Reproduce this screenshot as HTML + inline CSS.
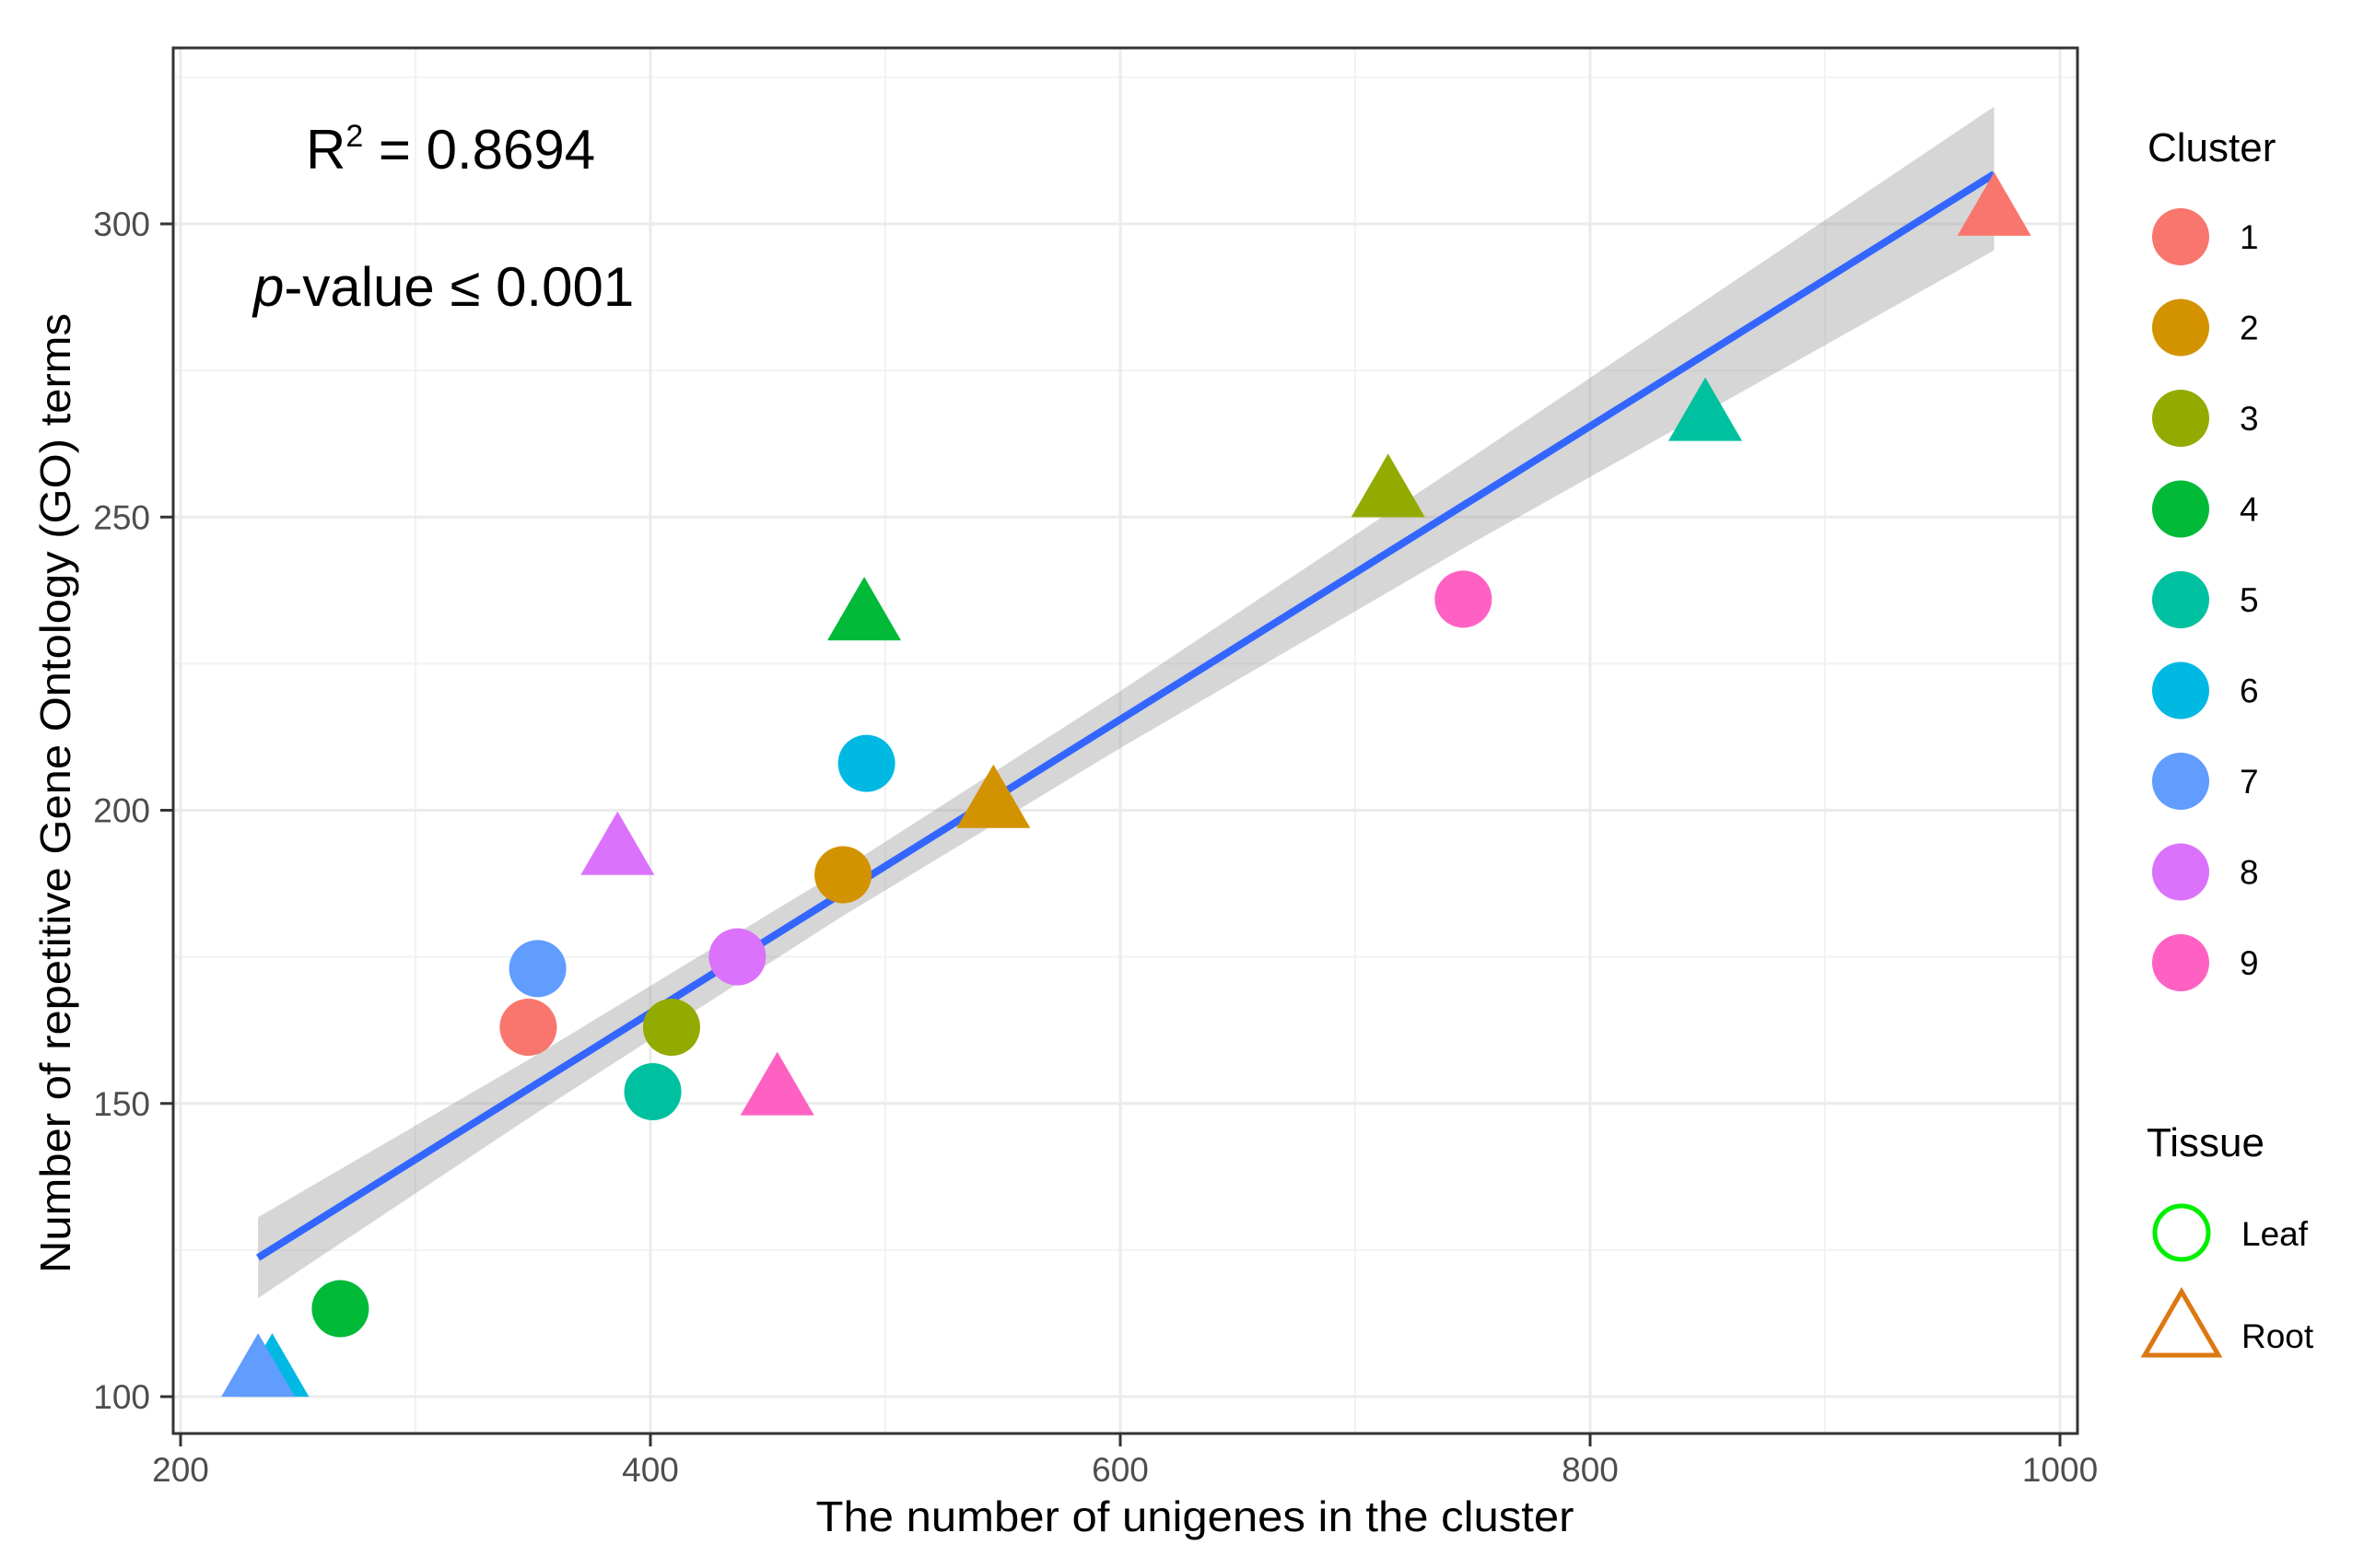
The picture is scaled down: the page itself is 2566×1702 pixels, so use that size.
<!DOCTYPE html>
<html><head><meta charset="utf-8"><style>
html,body{margin:0;padding:0;background:#fff;}
svg{display:block;font-family:"Liberation Sans",Arial,sans-serif;}
</style></head><body>
<svg id="chart" width="2566" height="1702" viewBox="0 0 2566 1702" xmlns="http://www.w3.org/2000/svg">
<g id="grid"></g>
<g id="band"></g>
<g id="marks"></g>
<rect x="188" y="52" width="2067" height="1504" fill="none" stroke="#333" stroke-width="3"/>
<g id="axes"></g>
<text x="332" y="183" font-size="60" fill="#000">R<tspan font-size="34" dy="-24">2</tspan><tspan dy="24"> = 0.8694</tspan></text>
<text x="275" y="332" font-size="60" fill="#000"><tspan font-style="italic">p</tspan>-value ≤ 0.001</text>
<text x="1297" y="1662" font-size="46" text-anchor="middle" textLength="823" lengthAdjust="spacingAndGlyphs" fill="#000">The number of unigenes in the cluster</text>
<text transform="translate(76,861) rotate(-90)" font-size="46" text-anchor="middle" textLength="1042" lengthAdjust="spacingAndGlyphs" fill="#000">Number of repetitive Gene Ontology (GO) terms</text>
<g id="legend"></g>
</svg>
<script>
const clusterColors = ["#F8766D","#D39200","#93AA00","#00BA38","#00C19F","#00B9E3","#619CFF","#DB72FB","#FF61C3"];
const leafClusters = [1,7,3,5,8,2,6,9,4];
const leafX = [348,352,409,401,437,482,492,746,268];
const leafY = [163,173,163,152,175,189,208,236,115];
const rootClusters = [1,5,3,4,2,8,9,6,7];
const rootX = [972,849,714,491,546,386,454,239,233];
const rootY = [303,268,255,234,202,194,153,105,105];
const fitX = [233,972];
const fitY = [123.7,308.5];
const bandX = [233,350,480,600,750,972];
const bandLo = [116.8,148.0,181.5,210.6,245.6,295.5];
const bandHi = [130.6,157.9,189.5,220.3,260.3,320.0];
const xTicks = [200,400,600,800,1000];
const yTicks = [100,150,200,250,300];
const xMinor = [300,500,700,900];
const yMinor = [125,175,225,275,325];

const NS="http://www.w3.org/2000/svg";
const sx = v => 196 + (v-200)*2.55;
const sy = v => 243 + (300-v)*6.365;
function mk(tag, attrs, parent){const e=document.createElementNS(NS,tag);for(const k in attrs)e.setAttribute(k,attrs[k]);parent.appendChild(e);return e;}
const grid=document.getElementById('grid'), band=document.getElementById('band'), marks=document.getElementById('marks'), axes=document.getElementById('axes'), legend=document.getElementById('legend');

xMinor.forEach(v=>{const l=mk('line',{x1:sx(v),x2:sx(v),y1:52,y2:1556,stroke:'#f2f2f2','stroke-width':2},grid);

});
yMinor.forEach(v=>{const l=mk('line',{x1:188,x2:2255,y1:sy(v),y2:sy(v),stroke:'#f2f2f2','stroke-width':2},grid);

});
xTicks.forEach(v=>{const l=mk('line',{x1:sx(v),x2:sx(v),y1:52,y2:1556,stroke:'#ebebeb','stroke-width':3},grid);


const t=mk('line',{x1:sx(v),x2:sx(v),y1:1556,y2:1570,stroke:'#333','stroke-width':3},axes);


const tx=mk('text',{x:sx(v),y:1608,'font-size':37,'text-anchor':'middle',fill:'#4d4d4d'},axes);tx.textContent=v;

});
yTicks.forEach(v=>{const l=mk('line',{x1:188,x2:2255,y1:sy(v),y2:sy(v),stroke:'#ebebeb','stroke-width':3},grid);


const t=mk('line',{x1:174,x2:188,y1:sy(v),y2:sy(v),stroke:'#333','stroke-width':3},axes);


const tx=mk('text',{x:163,y:sy(v)+13,'font-size':37,'text-anchor':'end',fill:'#4d4d4d'},axes);tx.textContent=v;

});

let d='M'+bandX.map((x,i)=>sx(x)+','+sy(bandHi[i])).join(' L');
d+=' L'+bandX.slice().reverse().map((x,j)=>{const i=bandX.length-1-j;return sx(x)+','+sy(bandLo[i]);}).join(' L')+' Z';
const bp=mk('path',{d:d,fill:'#999','fill-opacity':0.4},band);


const fl=mk('line',{x1:sx(fitX[0]),y1:sy(fitY[0]),x2:sx(fitX[1]),y2:sy(fitY[1]),stroke:'#3366FF','stroke-width':8},band);



function tri(cx,cy){return `${cx},${cy-37} ${cx-40},${cy+32} ${cx+40},${cy+32}`;}
leafX.forEach((x,i)=>{const c=mk('circle',{cx:sx(x),cy:sy(leafY[i]),r:31,fill:clusterColors[leafClusters[i]-1]},marks);

});
rootX.forEach((x,i)=>{const p=mk('polygon',{points:tri(sx(x),sy(rootY[i])),fill:clusterColors[rootClusters[i]-1]},marks);

});

const lt=mk('text',{x:2331,y:175,'font-size':44,fill:'#000'},legend);lt.textContent='Cluster';


clusterColors.forEach((c,i)=>{const y=257+i*98.5;
const k=mk('circle',{cx:2367,cy:y,r:31,fill:c},legend);


const t=mk('text',{x:2431,y:y+13,'font-size':37,fill:'#000'},legend);t.textContent=i+1;

});
const tt=mk('text',{x:2330,y:1255,'font-size':44,fill:'#000'},legend);tt.textContent='Tissue';


const lc=mk('circle',{cx:2368,cy:1338,r:29,fill:'none',stroke:'#00EE00','stroke-width':5},legend);


const ll=mk('text',{x:2433,y:1352,'font-size':37,fill:'#000'},legend);ll.textContent='Leaf';


const rt=mk('polygon',{points:'2368,1402 2328,1471 2408,1471',fill:'none',stroke:'#DD7711','stroke-width':5},legend);


const rl=mk('text',{x:2433,y:1463,'font-size':37,fill:'#000'},legend);rl.textContent='Root';


</script>
</body></html>
